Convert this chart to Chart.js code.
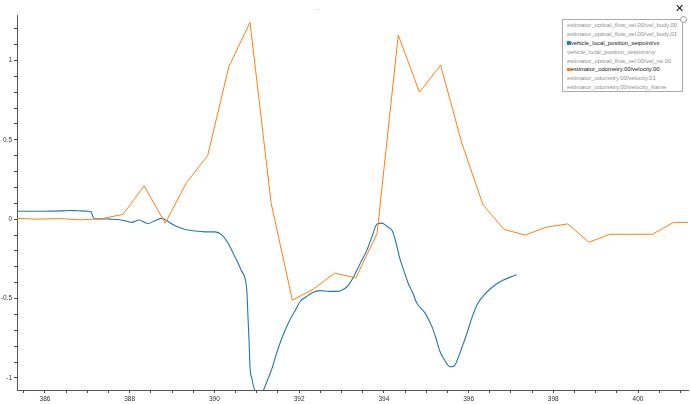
<!DOCTYPE html>
<html>
<head>
<meta charset="utf-8">
<script src="https://cdn.jsdelivr.net/npm/chart.js@4"></script>
<style>
  html, body { margin:0; padding:0; background:#fff; width:690px; height:404px; overflow:hidden; }
  #wrap { position:relative; width:690px; height:404px; }
  #c { position:absolute; left:0; top:0; }
  #title { position:absolute; left:300px; width:34px; top:5px; text-align:center; font:6px "Liberation Sans", sans-serif; color:#888; }
  #close { position:absolute; left:675px; top:2px; font:bold 11px "DejaVu Sans", sans-serif; color:#111; }
  #legend { position:absolute; left:562px; top:19px; width:121px; height:73px; border:1px solid #aaa; background:#fff; box-sizing:border-box; padding:1px 0 0 4px; overflow:hidden; }
  #legend div { font:6.2px "Liberation Sans", sans-serif; line-height:8.9px; height:8.9px; white-space:nowrap; color:#8f8f8f; transform:scaleX(0.95); transform-origin:0 50%; }
  #legend div.on { color:#111; }
  #legend span.sw { display:inline-block; width:3.5px; height:3.5px; margin-right:0.5px; vertical-align:0px; }
  #knob { position:absolute; left:680px; top:16px; width:5px; height:5px; border:1px solid #999; border-radius:50%; background:#fff; }
</style>
</head>
<body>
<div id="wrap">
  <canvas id="c" width="690" height="404"></canvas>
  <div id="title">...</div>
  <div id="close">✕</div>
  <div id="legend"></div>
  <div id="knob"></div>
</div>
<script>
// ---- data ----
const seriesNames = [
  "estimator_optical_flow_vel.00/vel_body.00",
  "estimator_optical_flow_vel.00/vel_body.01",
  "vehicle_local_position_setpoint/vx",
  "vehicle_local_position_setpoint/vy",
  "estimator_optical_flow_vel.00/vel_ne.00",
  "estimator_odometry.00/velocity.00",
  "estimator_odometry.00/velocity.01",
  "estimator_odometry.00/velocity_frame"
];
const seriesShown = [false, false, true, false, false, true, false, false];
const seriesColors = [null, null, "#1f77b4", null, null, "#ff7f0e", null, null];

// vehicle_local_position_setpoint/vx
const vxTime = [385.34, 386.00, 386.40, 386.59, 386.78, 387.02, 387.09, 387.16, 387.30, 387.53,
  387.72, 387.89, 388.05, 388.22, 388.43, 388.60, 388.76, 388.88, 389.00, 389.14,
  389.31, 389.54, 389.78, 390.01, 390.18, 390.32, 390.49, 390.63, 390.75, 390.77,
  390.79, 390.82, 390.84, 390.89, 390.93, 391.03, 391.12, 391.17, 391.26, 391.36,
  391.45, 391.55, 391.67, 391.81, 391.93, 392.02, 392.16, 392.30, 392.49, 392.73,
  392.92, 393.06, 393.15, 393.27, 393.44, 393.60, 393.72, 393.84, 393.96, 394.07,
  394.19, 394.26, 394.38, 394.48, 394.57, 394.69, 394.78, 394.97, 395.14, 395.23,
  395.32, 395.44, 395.56, 395.66, 395.73, 395.84, 395.96, 396.08, 396.22, 396.36,
  396.51, 396.65, 396.81, 396.98, 397.14];
const vxValue = [0.05, 0.05, 0.052, 0.055, 0.053, 0.05, 0.045, 0.003, 0.002, 0.0,
  -0.002, -0.01, -0.02, -0.005, -0.027, -0.01, 0.005, -0.01, -0.03, -0.05,
  -0.065, -0.075, -0.08, -0.08, -0.10, -0.15, -0.24, -0.32, -0.41, -0.47,
  -0.60, -0.78, -0.93, -1.01, -1.06, -1.12, -1.10, -1.07, -1.01, -0.94,
  -0.86, -0.78, -0.70, -0.62, -0.565, -0.52, -0.49, -0.465, -0.45, -0.455,
  -0.455, -0.44, -0.42, -0.37, -0.28, -0.195, -0.11, -0.03, -0.025, -0.045,
  -0.07, -0.12, -0.25, -0.33, -0.40, -0.47, -0.53, -0.59, -0.68, -0.75,
  -0.83, -0.89, -0.93, -0.925, -0.89, -0.81, -0.72, -0.62, -0.53, -0.48,
  -0.44, -0.41, -0.385, -0.365, -0.35];

// estimator_odometry.00/velocity.00
const odoTime = [385.34, 385.84, 386.34, 386.84, 387.34, 387.84, 388.34, 388.84, 389.34, 389.84,
  390.34, 390.84, 391.34, 391.84, 392.34, 392.84, 393.34, 393.84, 394.34, 394.84,
  395.34, 395.84, 396.34, 396.84, 397.34, 397.84, 398.34, 398.84, 399.34, 399.84,
  400.34, 400.84, 401.34];
const odoValue = [0.005, 0.0, 0.004, -0.004, 0.003, 0.03, 0.21, -0.025, 0.23, 0.40,
  0.96, 1.24, 0.10, -0.51, -0.44, -0.34, -0.37, -0.09, 1.16, 0.80,
  0.97, 0.48, 0.09, -0.065, -0.10, -0.05, -0.03, -0.145, -0.095, -0.095,
  -0.095, -0.02, -0.02];

const xRange = [385.34, 401.18];
const yRange = [-1.076, 1.286];
const xTickValues = [385.5,386,386.5,387,387.5,388,388.5,389,389.5,390,390.5,391,391.5,392,392.5,393,393.5,394,394.5,395,395.5,396,396.5,397,397.5,398,398.5,399,399.5,400,400.5,401];
const xTickLabels = {386:"386", 388:"388", 390:"390", 392:"392", 394:"394", 396:"396", 398:"398", 400:"400"};
const yTickValues = [-1,-0.9,-0.8,-0.7,-0.6,-0.5,-0.4,-0.3,-0.2,-0.1,0,0.1,0.2,0.3,0.4,0.5,0.6,0.7,0.8,0.9,1,1.1,1.2];
const yTickLabels = {"-1":"-1", "-0.5":"-0.5", "0":"0", "0.5":"0.5", "1":"1"};

// ---- legend (HTML text) ----
const lg = document.getElementById('legend');
seriesNames.forEach((n, i) => {
  const d = document.createElement('div');
  if (seriesShown[i]) {
    d.className = 'on';
    const s = document.createElement('span');
    s.className = 'sw';
    s.style.background = seriesColors[i];
    d.appendChild(s);
  }
  d.appendChild(document.createTextNode(n));
  lg.appendChild(d);
});

// ---- chart ----
const pts = (t, v) => t.map((x, i) => ({x: x, y: v[i]}));
const tickFont = {family: "Liberation Sans", size: 6.5};

new Chart(document.getElementById('c'), {
  type: 'line',
  data: {
    datasets: [
      { label: seriesNames[5], data: pts(odoTime, odoValue), borderColor: '#ff7f0e', borderWidth: 1, pointRadius: 0, tension: 0, fill: false },
      { label: seriesNames[2], data: pts(vxTime, vxValue), borderColor: '#1f77b4', borderWidth: 1.1, pointRadius: 0, cubicInterpolationMode: 'monotone', fill: false }
    ]
  },
  options: {
    responsive: false,
    animation: false,
    devicePixelRatio: 1,
    layout: { padding: { left: 0, top: 15, right: 2, bottom: 0 } },
    plugins: { legend: { display: false }, tooltip: { enabled: false }, title: { display: false } },
    scales: {
      x: {
        type: 'linear', min: xRange[0], max: xRange[1],
        afterBuildTicks: s => { s.ticks = xTickValues.map(v => ({value: v})); },
        afterFit: s => { s.height = 14; },
        grid: { drawOnChartArea: false, drawTicks: true, tickLength: 3, tickColor: '#444', tickWidth: 1 },
        border: { display: true, color: '#555', width: 1 },
        ticks: { autoSkip: false, maxRotation: 0, padding: 2, color: '#333', font: tickFont,
          callback: v => xTickLabels[v] || '' }
      },
      y: {
        type: 'linear', min: yRange[0], max: yRange[1],
        afterBuildTicks: s => { s.ticks = yTickValues.map(v => ({value: v})); },
        afterFit: s => { s.width = 17; },
        grid: { drawOnChartArea: false, drawTicks: true, tickLength: 3, tickColor: '#444', tickWidth: 1 },
        border: { display: true, color: '#555', width: 1 },
        ticks: { autoSkip: false, padding: 2, color: '#333', font: tickFont,
          callback: v => yTickLabels[String(Math.round(v * 10) / 10)] || '' }
      }
    }
  }
});
</script>
</body>
</html>
